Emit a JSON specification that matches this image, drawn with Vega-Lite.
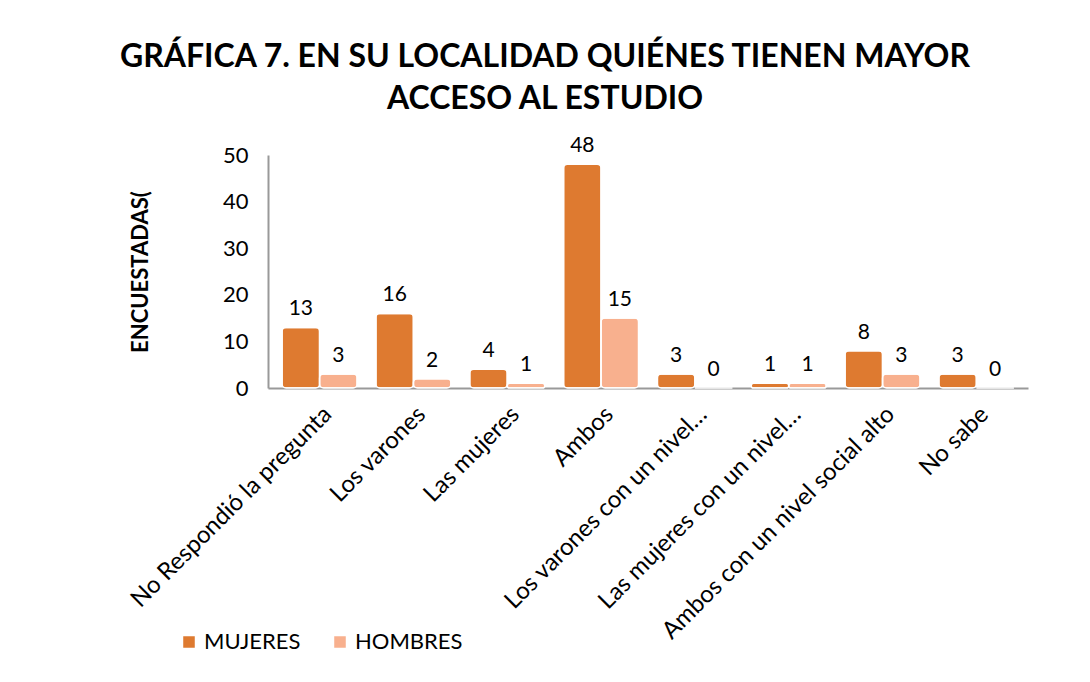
{
  "$schema": "https://vega.github.io/schema/vega-lite/v6.json",
  "autosize": "none",
  "width": 760,
  "height": 233,
  "padding": {"left": 268, "top": 155, "right": 62, "bottom": 294},
  "background": "white",
  "title": {
    "text": ["GRÁFICA 7. EN SU LOCALIDAD QUIÉNES TIENEN MAYOR", "ACCESO AL ESTUDIO"],
    "font": "Lato",
    "fontSize": 32,
    "fontWeight": "bold",
    "color": "#000000",
    "anchor": "middle",
    "dx": -103,
    "offset": 19,
    "lineHeight": 42
  },
  "data": {
    "values": [
      {"cat": "No Respondió la pregunta", "serie": "MUJERES", "n": 13},
      {"cat": "No Respondió la pregunta", "serie": "HOMBRES", "n": 3},
      {"cat": "Los varones", "serie": "MUJERES", "n": 16},
      {"cat": "Los varones", "serie": "HOMBRES", "n": 2},
      {"cat": "Las mujeres", "serie": "MUJERES", "n": 4},
      {"cat": "Las mujeres", "serie": "HOMBRES", "n": 1},
      {"cat": "Ambos", "serie": "MUJERES", "n": 48},
      {"cat": "Ambos", "serie": "HOMBRES", "n": 15},
      {"cat": "Los varones con un nivel…", "serie": "MUJERES", "n": 3},
      {"cat": "Los varones con un nivel…", "serie": "HOMBRES", "n": 0},
      {"cat": "Las mujeres con un nivel…", "serie": "MUJERES", "n": 1},
      {"cat": "Las mujeres con un nivel…", "serie": "HOMBRES", "n": 1},
      {"cat": "Ambos con un nivel social alto", "serie": "MUJERES", "n": 8},
      {"cat": "Ambos con un nivel social alto", "serie": "HOMBRES", "n": 3},
      {"cat": "No sabe", "serie": "MUJERES", "n": 3},
      {"cat": "No sabe", "serie": "HOMBRES", "n": 0}
    ]
  },
  "encoding": {
    "x": {
      "field": "cat",
      "type": "nominal",
      "sort": null,
      "scale": {"paddingInner": 0.2, "paddingOuter": 0.15},
      "axis": {
        "title": null,
        "labelAngle": -45,
        "labelFont": "Lato",
        "labelFontSize": 24,
        "labelColor": "#000000",
        "labelLimit": 400,
        "labelPadding": 14,
        "ticks": false,
        "domainColor": "#999999",
        "domainWidth": 2
      }
    },
    "xOffset": {"field": "serie", "type": "nominal", "sort": ["MUJERES", "HOMBRES"]},
    "y": {
      "field": "n",
      "type": "quantitative",
      "scale": {"domain": [0, 50]},
      "axis": {
        "title": "ENCUESTADAS(",
        "titleFont": "Lato",
        "titleFontSize": 22,
        "titleFontWeight": "bold",
        "titleColor": "#000000",
        "titlePadding": 70,
        "values": [0, 10, 20, 30, 40, 50],
        "labelFont": "Lato",
        "labelFontSize": 22,
        "labelColor": "#000000",
        "labelPadding": 20,
        "ticks": false,
        "grid": false,
        "domainColor": "#999999",
        "domainWidth": 2
      }
    },
    "color": {
      "field": "serie",
      "type": "nominal",
      "sort": ["MUJERES", "HOMBRES"],
      "scale": {"domain": ["MUJERES", "HOMBRES"], "range": ["#DE7A30", "#F8B08E"]},
      "legend": {
        "title": null,
        "orient": "none",
        "direction": "horizontal",
        "legendX": -90,
        "legendY": 476,
        "symbolType": "square",
        "symbolSize": 170,
        "labelFont": "Lato",
        "labelFontSize": 22,
        "labelColor": "#000000",
        "columnPadding": 28
      }
    }
  },
  "layer": [
    {
      "mark": {"type": "bar", "stroke": "white", "strokeWidth": 1.5, "cornerRadius": 4}
    },
    {
      "mark": {"type": "text", "dy": -18, "font": "Lato", "fontSize": 21},
      "encoding": {
        "text": {"field": "n", "type": "quantitative"},
        "color": {"value": "#000000"}
      }
    }
  ],
  "config": {"view": {"stroke": null}}
}
